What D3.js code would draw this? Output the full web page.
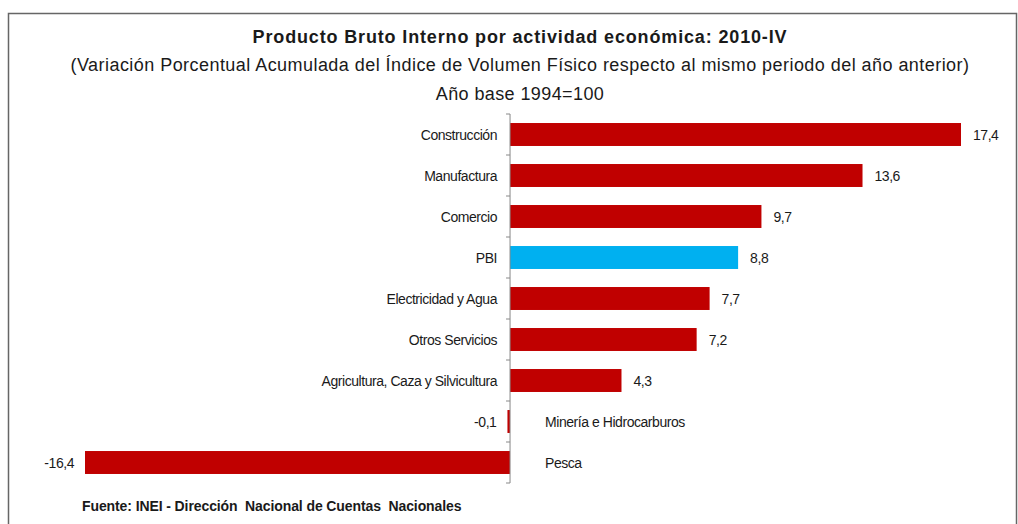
<!DOCTYPE html>
<html>
<head>
<meta charset="utf-8">
<script src="https://cdn.jsdelivr.net/npm/d3@7"></script>
<style>
  body { margin: 0; background: #fff; }
  svg text { font-family: "Liberation Sans Narrow", "Arial Narrow", "Liberation Sans", sans-serif; fill: #1a1a1a; }
</style>
</head>
<body>
<script>
// datos
var categorias = ["Construcción", "Manufactura", "Comercio", "PBI", "Electricidad y Agua",
                  "Otros Servicios", "Agricultura, Caza y Silvicultura", "Minería e Hidrocarburos", "Pesca"];
var valores = [17.4, 13.6, 9.7, 8.8, 7.7, 7.2, 4.3, -0.1, -16.4];
var titulo = "Producto Bruto Interno por actividad económica: 2010-IV";
var subtitulo = "(Variación Porcentual Acumulada del Índice de Volumen Físico respecto al mismo periodo del año anterior)";
var base_text = "Año base 1994=100";
var fuente = "Fuente: INEI - Dirección  Nacional de Cuentas  Nacionales";

var svg_width = 1018;
var svg_height = 524;
var rojo = "#c00000";
var azul = "#00b0f0";

var data = categorias.map(function(c, i) { return { name: c, value: valores[i] }; });

var svg = d3.select("body").append("svg")
    .attr("width", svg_width).attr("height", svg_height);

// marco
svg.append("rect")
    .attr("x", 8.5).attr("y", 13.5).attr("width", 1008).attr("height", 530)
    .attr("fill", "none").attr("stroke", "#666").attr("stroke-width", 1.5);

// titulos
svg.append("text").attr("x", 520).attr("y", 43).attr("text-anchor", "middle")
    .attr("font-size", 18).attr("font-weight", "bold").style("letter-spacing", "0.85px").text(titulo);
svg.append("text").attr("x", 520).attr("y", 71).attr("text-anchor", "middle")
    .attr("font-size", 18).style("letter-spacing", "0.45px").text(subtitulo);
svg.append("text").attr("x", 520).attr("y", 100).attr("text-anchor", "middle")
    .attr("font-size", 18).style("letter-spacing", "0.4px").text(base_text);

// escalas
var x = d3.scaleLinear().domain([d3.min(valores), d3.max(valores)]).range([85, 961]);
var y = d3.scaleBand().domain(categorias).range([114, 483]).paddingInner(0.44).paddingOuter(0.22);

// barras
svg.selectAll("rect.bar")
    .data(data)
    .enter()
    .append("rect")
    .attr("class", "bar")
    .attr("x", function(d) { return x(Math.min(0, d.value)); })
    .attr("y", function(d) { return y(d.name); })
    .attr("width", function(d) { return Math.abs(x(d.value) - x(0)); })
    .attr("height", y.bandwidth())
    .attr("fill", function(d) { return d.name == "PBI" ? azul : rojo; });

// eje vertical con marcas entre categorias
var x0 = x(0);
svg.append("line").attr("x1", x0).attr("x2", x0).attr("y1", 114).attr("y2", 483)
    .attr("stroke", "#888").attr("stroke-width", 1);
d3.range(categorias.length + 1).forEach(function(i) {
    var ty = 114 + i * (369 / categorias.length);
    svg.append("line").attr("x1", x0 - 4).attr("x2", x0).attr("y1", ty).attr("y2", ty)
        .attr("stroke", "#888").attr("stroke-width", 1);
});

// etiquetas de categoria
svg.selectAll("text.cat")
    .data(data)
    .enter()
    .append("text")
    .attr("class", "cat")
    .attr("x", function(d) { return d.value >= 0 ? x0 - 13 : x0 + 35; })
    .attr("y", function(d) { return y(d.name) + y.bandwidth() / 2 + 5; })
    .attr("text-anchor", function(d) { return d.value >= 0 ? "end" : "start"; })
    .attr("font-size", 14)
    .style("letter-spacing", "-0.45px")
    .text(function(d) { return d.name; });

// etiquetas de valor
var fmt = function(v) { return d3.format(".1f")(v).replace(".", ",").replace("\u2212", "-"); };
svg.selectAll("text.val")
    .data(data)
    .enter()
    .append("text")
    .attr("class", "val")
    .attr("x", function(d) { return d.value >= 0 ? x(d.value) + 12 : x(d.value) - 11; })
    .attr("y", function(d) { return y(d.name) + y.bandwidth() / 2 + 5; })
    .attr("text-anchor", function(d) { return d.value >= 0 ? "start" : "end"; })
    .attr("font-size", 14)
    .style("letter-spacing", "-0.45px")
    .text(function(d) { return fmt(d.value); });

// fuente
svg.append("text").attr("x", 82).attr("y", 511)
    .attr("font-size", 14).attr("font-weight", "bold")
    .style("white-space", "pre").style("letter-spacing", "-0.1px").text(fuente);
</script>
</body>
</html>
